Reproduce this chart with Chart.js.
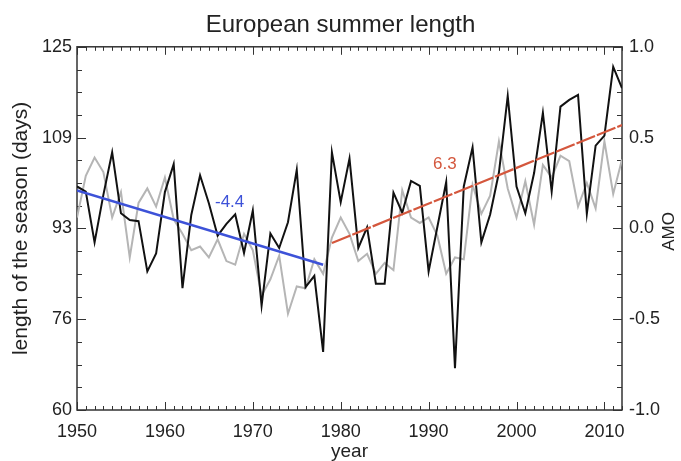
<!DOCTYPE html>
<html>
<head>
<meta charset="utf-8">
<script src="https://cdn.jsdelivr.net/npm/chart.js@4.4.0/dist/chart.umd.min.js"></script>
<style>
  html, body { margin: 0; padding: 0; background: #fff; }
  #wrap { width: 681px; height: 461px; }
</style>
</head>
<body>
<div id="wrap"><canvas id="chart"></canvas></div>
<script>
// European summer length vs AMO

const years = [
  1950, 1951, 1952, 1953, 1954, 1955, 1956, 1957, 1958, 1959,
  1960, 1961, 1962, 1963, 1964, 1965, 1966, 1967, 1968, 1969,
  1970, 1971, 1972, 1973, 1974, 1975, 1976, 1977, 1978, 1979,
  1980, 1981, 1982, 1983, 1984, 1985, 1986, 1987, 1988, 1989,
  1990, 1991, 1992, 1993, 1994, 1995, 1996, 1997, 1998, 1999,
  2000, 2001, 2002, 2003, 2004, 2005, 2006, 2007, 2008, 2009,
  2010, 2011, 2012
];

// length of the summer season (days), left axis
const seasonLength = [
  100.0, 99.1, 90.0, 98.5, 106.1, 95.2, 94.0, 93.8, 84.8, 88.0,
  99.0, 104.0, 81.8, 94.9, 102.0, 97.0, 91.2, 93.3, 95.0, 88.1,
  95.7, 78.7, 91.6, 89.0, 93.6, 103.0, 82.0, 84.0, 70.4, 106.1,
  97.2, 105.0, 89.0, 92.7, 82.6, 82.6, 98.9, 95.3, 101.0, 100.1,
  84.8, 92.8, 100.8, 67.5, 100.0, 107.0, 90.0, 95.0, 102.5, 116.2,
  100.0, 95.2, 102.4, 113.2, 99.1, 114.3, 115.5, 116.4, 95.1, 107.3,
  109.1, 121.4, 117.6
];

// AMO index, right axis
const amoIndex = [
  0.06, 0.29, 0.39, 0.31, 0.06, 0.20, -0.16, 0.14, 0.22, 0.12,
  0.28, 0.05, -0.03, -0.12, -0.10, -0.16, -0.06, -0.18, -0.20, -0.03,
  -0.12, -0.37, -0.28, -0.15, -0.47, -0.32, -0.33, -0.17, -0.25, -0.05,
  0.06, -0.03, -0.18, -0.14, -0.25, -0.19, -0.23, 0.21, 0.06, 0.03,
  0.06, -0.04, -0.25, -0.16, -0.17, 0.24, 0.08, 0.18, 0.48, 0.22,
  0.06, 0.26, 0.02, 0.35, 0.28, 0.40, 0.37, 0.12, 0.25, 0.11,
  0.48, 0.19, 0.38
];

// trend lines (days per decade shown as labels)
const earlyTrendYears = [1950, 1978];
const earlyTrend = [99.3, 86.0];
const lateTrendYears = [1979, 2012];
const lateTrend = [89.9, 111.0];
const trendLabels = ['-4.4', '6.3'];
const trendLabelPos = [[1965.7, 97.1], [1990.5, 103.9]];

const xTicks = [1950, 1960, 1970, 1980, 1990, 2000, 2010];
const dayTicks = [60, 76.25, 92.5, 108.75, 125];
const amoTicks = [-1.0, -0.5, 0.0, 0.5, 1.0];

const FONT = "'Liberation Sans', Arial, Helvetica, sans-serif";
const TEXT = '#222';
const BLUE = '#3d52d8';
const RED = '#d4573d';

function pairs(xs, ys) {
  return xs.map((x, i) => ({ x: x, y: ys[i] }));
}

// frame with inward ticks on all four sides, plus text annotations
const frameTicks = {
  id: 'frameTicks',
  beforeDatasetsDraw(chart) {
    const { ctx, chartArea: a, scales } = chart;
    ctx.save();
    ctx.strokeStyle = '#333';
    ctx.lineWidth = 1.5;
    ctx.strokeRect(a.left, a.top, a.right - a.left, a.bottom - a.top);

    ctx.lineWidth = 1;
    ctx.beginPath();
    for (let yr = 1950; yr <= 2012; yr++) {
      const px = Math.round(scales.x.getPixelForValue(yr)) + 0.5;
      const len = yr % 10 === 0 ? 8 : 4;
      ctx.moveTo(px, a.bottom);
      ctx.lineTo(px, a.bottom - len);
      ctx.moveTo(px, a.top);
      ctx.lineTo(px, a.top + len);
    }
    for (let i = 0; i <= 16; i++) {
      const len = i % 4 === 0 ? 9 : 5;
      const pl = Math.round(scales.y.getPixelForValue(60 + i * 65 / 16)) + 0.5;
      ctx.moveTo(a.left, pl);
      ctx.lineTo(a.left + len, pl);
      const pr = Math.round(scales.y2.getPixelForValue(-1 + i * 0.125)) + 0.5;
      ctx.moveTo(a.right, pr);
      ctx.lineTo(a.right - len, pr);
    }
    ctx.stroke();
    ctx.restore();
  },
  afterDatasetsDraw(chart) {
    const { ctx, chartArea: a, scales } = chart;
    ctx.save();
    ctx.font = '17px ' + FONT;
    ctx.textBaseline = 'middle';
    ctx.textAlign = 'left';
    const colors = [BLUE, RED];
    trendLabels.forEach((t, i) => {
      ctx.fillStyle = colors[i];
      ctx.fillText(t, scales.x.getPixelForValue(trendLabelPos[i][0]),
        scales.y.getPixelForValue(trendLabelPos[i][1]));
    });

    // right axis title reads bottom to top, like the left one
    ctx.fillStyle = TEXT;
    ctx.font = '17px ' + FONT;
    ctx.translate(669, (a.top + a.bottom) / 2 + 3);
    ctx.rotate(-Math.PI / 2);
    ctx.textAlign = 'center';
    ctx.fillText('AMO', 0, 0);
    ctx.restore();
  }
};

new Chart(document.getElementById('chart'), {
  type: 'line',
  data: {
    datasets: [
      {
        data: pairs(earlyTrendYears, earlyTrend),
        borderColor: BLUE,
        borderWidth: 2.5,
        pointRadius: 0,
        yAxisID: 'y'
      },
      {
        data: pairs(lateTrendYears, lateTrend),
        borderColor: RED,
        borderWidth: 2.2,
        borderDash: [20, 2],
        pointRadius: 0,
        yAxisID: 'y'
      },
      {
        data: pairs(years, seasonLength),
        borderColor: '#111',
        borderWidth: 2,
        pointRadius: 0,
        yAxisID: 'y'
      },
      {
        data: pairs(years, amoIndex),
        borderColor: '#b5b5b5',
        borderWidth: 2,
        pointRadius: 0,
        yAxisID: 'y2'
      }
    ]
  },
  options: {
    responsive: true,
    maintainAspectRatio: false,
    animation: false,
    layout: { padding: 0 },
    plugins: {
      legend: { display: false },
      tooltip: { enabled: false },
      title: {
        display: true,
        text: 'European summer length',
        color: TEXT,
        font: { family: FONT, size: 24, weight: 'normal' },
        padding: { top: 11, bottom: 7 }
      }
    },
    scales: {
      x: {
        type: 'linear',
        min: 1950,
        max: 2012,
        afterBuildTicks: s => { s.ticks = xTicks.map(v => ({ value: v })); },
        afterFit: s => { s.height = 51; },
        grid: { display: false, drawTicks: false },
        border: { display: false },
        ticks: {
          color: TEXT,
          padding: 11,
          maxRotation: 0,
          font: { family: FONT, size: 18 },
          callback: v => String(v)
        },
        title: {
          display: true,
          text: 'year',
          color: TEXT,
          padding: 0,
          font: { family: FONT, size: 19, lineHeight: 1 }
        }
      },
      y: {
        position: 'left',
        min: 60,
        max: 125,
        afterBuildTicks: s => { s.ticks = dayTicks.map(v => ({ value: v })); },
        afterFit: s => { s.width = 77; },
        grid: { display: false, drawTicks: false },
        border: { display: false },
        ticks: {
          color: TEXT,
          padding: 5,
          font: { family: FONT, size: 18 },
          callback: v => String(Math.round(v))
        },
        title: {
          display: true,
          text: 'length of the season (days)',
          color: TEXT,
          padding: { top: 9, bottom: 0 },
          font: { family: FONT, size: 21 }
        }
      },
      y2: {
        position: 'right',
        min: -1,
        max: 1,
        afterBuildTicks: s => { s.ticks = amoTicks.map(v => ({ value: v })); },
        afterFit: s => { s.width = 59; },
        grid: { display: false, drawTicks: false },
        border: { display: false },
        ticks: {
          color: TEXT,
          padding: 7,
          font: { family: FONT, size: 18 },
          callback: v => Number(v).toFixed(1)
        }
      }
    }
  },
  plugins: [frameTicks]
});
</script>
</body>
</html>
